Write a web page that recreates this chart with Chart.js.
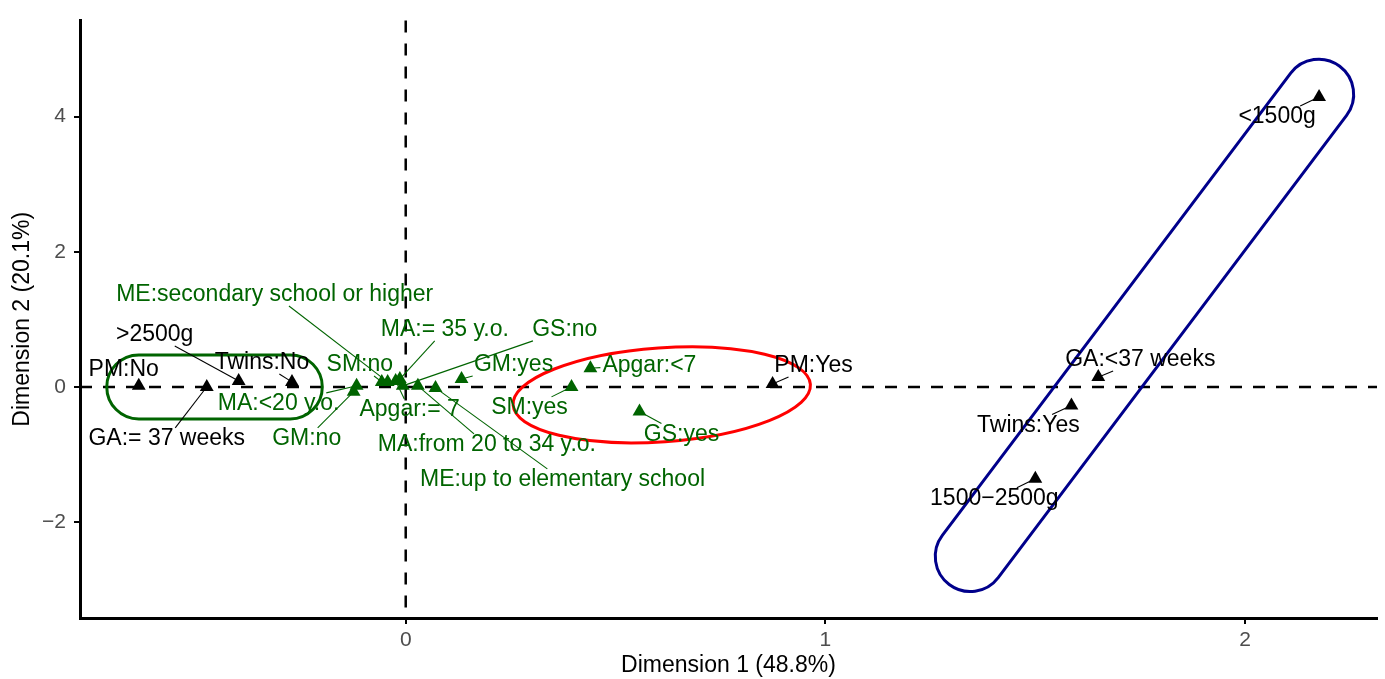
<!DOCTYPE html>
<html>
<head>
<meta charset="utf-8">
<script src="https://cdn.jsdelivr.net/npm/chart.js@4.4.1/dist/chart.umd.min.js"></script>
<style>
  html, body { margin: 0; padding: 0; background: #fff; }
</style>
</head>
<body>
<canvas id="mca" width="1385" height="679"></canvas>
<script>
// categories coloured black (outcome / birth variables)
var blackLabels = ["PM:No", "GA:= 37 weeks", ">2500g", "Twins:No", "PM:Yes",
                   "<1500g", "GA:<37 weeks", "Twins:Yes", "1500\u22122500g"];
var blackX = [-0.636, -0.474, -0.398, -0.271, 0.874, 2.176, 1.650, 1.586, 1.500];
var blackY = [0.015, 0.0, 0.088, 0.073, 0.044, 4.29, 0.146, -0.277, -1.36];

// categories coloured green (maternal / supplementary variables)
var greenLabels = ["MA:<20 y.o.", "GM:no", "SM:no", "ME:secondary school or higher",
                   "MA:= 35 y.o.", "Apgar:= 7", "GS:no", "MA:from 20 to 34 y.o.",
                   "ME:up to elementary school", "GM:yes", "SM:yes", "Apgar:<7", "GS:yes"];
var greenX = [-0.117, -0.124, -0.057, -0.043, -0.014, -0.024, -0.007, 0.029, 0.071, 0.133, 0.395, 0.440, 0.557];
var greenY = [0.015, -0.073, 0.073, 0.073, 0.117, 0.088, 0.015, 0.015, -0.015, 0.117, 0.0, 0.277, -0.365];

var xTicks = [0, 1, 2];
var yTicks = [-2, 0, 2, 4];

// label placement (pixel offset of the text centre from its point)
var blackOffsets = [[-15, -16], [-40, 52], [-84, -46], [-30, -19], [41, -18],
                    [-42, 20], [42, -17], [-43, 20], [-41, 20]];
var greenOffsets = [[-78, 18], [-47, 47], [-22, -17], [-113, -87], [45, -49], [14, 29],
                    [162, -56], [69, 59], [127, 92], [52, -14], [-42, 21], [59, -3], [42, 23]];

var FONT = "'Liberation Sans', Arial, Helvetica, sans-serif";
var GREEN = "#006400";

function pts(xs, ys) {
  return xs.map(function(x, i) { return { x: x, y: ys[i] }; });
}

var refLines = {
  id: "refLines",
  beforeDatasetsDraw: function(chart) {
    var ctx = chart.ctx, a = chart.chartArea;
    var x0 = chart.scales.x.getPixelForValue(0);
    var y0 = chart.scales.y.getPixelForValue(0);
    ctx.save();
    ctx.strokeStyle = "#000";
    ctx.lineWidth = 2.5;
    ctx.setLineDash([12, 11]);
    ctx.beginPath();
    ctx.moveTo(x0, a.top); ctx.lineTo(x0, a.bottom);
    ctx.moveTo(a.left, y0); ctx.lineTo(a.right, y0);
    ctx.stroke();
    ctx.restore();
  }
};

function capsule(ctx, p1, p2, r) {
  var ang = Math.atan2(p2.y - p1.y, p2.x - p1.x);
  ctx.beginPath();
  ctx.arc(p2.x, p2.y, r, ang - Math.PI / 2, ang + Math.PI / 2);
  ctx.arc(p1.x, p1.y, r, ang + Math.PI / 2, ang + 3 * Math.PI / 2);
  ctx.closePath();
  ctx.stroke();
}

var groupLoops = {
  id: "groupLoops",
  afterDatasetsDraw: function(chart) {
    var ctx = chart.ctx, sx = chart.scales.x, sy = chart.scales.y;
    function px(x, y) { return { x: sx.getPixelForValue(x), y: sy.getPixelForValue(y) }; }
    ctx.save();
    ctx.lineWidth = 3;
    // "No" group
    ctx.strokeStyle = GREEN;
    capsule(ctx, px(-0.636, 0.0), px(-0.275, 0.0), 32);
    // low birth weight group
    ctx.strokeStyle = "#00008B";
    capsule(ctx, px(1.345, -2.51), px(2.175, 4.33), 35);
    // "yes" group
    ctx.strokeStyle = "#FF0000";
    var c = px(0.610, -0.117);
    ctx.beginPath();
    ctx.ellipse(c.x, c.y, 149, 47, -4 * Math.PI / 180, 0, 2 * Math.PI);
    ctx.stroke();
    ctx.restore();
  }
};

var pointLabels = {
  id: "pointLabels",
  afterDatasetsDraw: function(chart) {
    var ctx = chart.ctx, sx = chart.scales.x, sy = chart.scales.y;
    var sets = [
      { labels: blackLabels, xs: blackX, ys: blackY, offs: blackOffsets, color: "#000" },
      { labels: greenLabels, xs: greenX, ys: greenY, offs: greenOffsets, color: GREEN }
    ];
    ctx.save();
    ctx.font = "23px " + FONT;
    ctx.textAlign = "center";
    ctx.textBaseline = "middle";
    sets.forEach(function(s) {
      for (var i = 0; i < s.labels.length; i++) {
        var p = { x: sx.getPixelForValue(s.xs[i]), y: sy.getPixelForValue(s.ys[i]) };
        var c = { x: p.x + s.offs[i][0], y: p.y + s.offs[i][1] };
        var hw = ctx.measureText(s.labels[i]).width / 2 + 2, hh = 11;
        var dx = p.x - c.x, dy = p.y - c.y;
        var t = Math.min(dx ? hw / Math.abs(dx) : 1e9, dy ? hh / Math.abs(dy) : 1e9);
        if (t < 1) {
          var st = { x: c.x + dx * t, y: c.y + dy * t };
          var len = Math.hypot(p.x - st.x, p.y - st.y);
          if (len > 8) {
            var en = { x: p.x - (p.x - st.x) / len * 3, y: p.y - (p.y - st.y) / len * 3 };
            ctx.strokeStyle = s.color;
            ctx.lineWidth = 1.1;
            ctx.beginPath(); ctx.moveTo(st.x, st.y); ctx.lineTo(en.x, en.y); ctx.stroke();
          }
        }
        ctx.fillStyle = s.color;
        ctx.fillText(s.labels[i], c.x, c.y);
      }
    });
    ctx.restore();
  }
};

var tickFmt = function(v) { return v < 0 ? "\u2212" + Math.abs(v) : String(v); };

new Chart(document.getElementById("mca").getContext("2d"), {
  type: "scatter",
  data: {
    datasets: [
      { label: "black", data: pts(blackX, blackY), pointStyle: "triangle", pointRadius: 8,
        backgroundColor: "#000", borderColor: "#000", borderWidth: 0 },
      { label: "green", data: pts(greenX, greenY), pointStyle: "triangle", pointRadius: 8,
        backgroundColor: GREEN, borderColor: GREEN, borderWidth: 0 }
    ]
  },
  options: {
    responsive: false,
    animation: false,
    devicePixelRatio: 1,
    layout: { padding: { left: 0, right: 7, top: 13, bottom: 0 } },
    plugins: { legend: { display: false }, tooltip: { enabled: false } },
    scales: {
      x: {
        type: "linear", min: -0.776, max: 2.314,
        afterBuildTicks: function(s) { s.ticks = xTicks.map(function(v) { return { value: v }; }); },
        afterFit: function(s) { s.height = 61; },
        grid: { drawOnChartArea: false, drawTicks: true, tickLength: 6, color: "#000", lineWidth: 2 },
        border: { display: true, color: "#000", width: 3 },
        ticks: { color: "#4D4D4D", font: { size: 21, family: FONT }, padding: 4, maxRotation: 0, callback: tickFmt },
        title: { display: true, text: "Dimension 1 (48.8%)", color: "#000", font: { size: 23, family: FONT }, padding: 0 }
      },
      y: {
        type: "linear", min: -3.42, max: 5.42,
        afterBuildTicks: function(s) { s.ticks = yTicks.map(function(v) { return { value: v }; }); },
        afterFit: function(s) { s.width = 80; },
        grid: { drawOnChartArea: false, drawTicks: true, tickLength: 6, color: "#000", lineWidth: 2 },
        border: { display: true, color: "#000", width: 3 },
        ticks: { color: "#4D4D4D", font: { size: 21, family: FONT }, padding: 8, callback: tickFmt },
        title: { display: true, text: "Dimension 2 (20.1%)", color: "#000", font: { size: 23, family: FONT }, padding: { top: 9, bottom: 0 } }
      }
    }
  },
  plugins: [refLines, groupLoops, pointLabels]
});
</script>
</body>
</html>
